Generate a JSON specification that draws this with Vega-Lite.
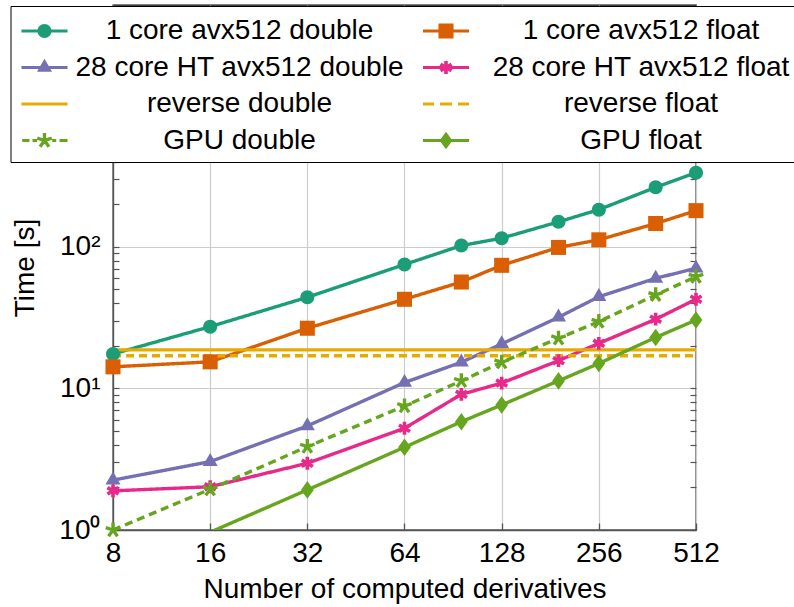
{
  "$schema": "https://vega.github.io/schema/vega-lite/v6.json",
  "width": 583,
  "height": 525,
  "autosize": {"type": "none"},
  "padding": {"left": 113, "top": 5, "right": 98, "bottom": 77},
  "background": "white",
  "config": {
    "font": "Liberation Sans",
    "view": {"stroke": "#000000", "strokeWidth": 1.3},
    "axis": {"labelColor": "#000000", "titleColor": "#000000", "titleFontWeight": "normal", "labelFont": "Liberation Sans", "titleFont": "Liberation Sans"}
  },
  "data": {"values": [
    {"n": 8, "t": 17.5, "s": "1 core avx512 double"},
    {"n": 16, "t": 27.3, "s": "1 core avx512 double"},
    {"n": 32, "t": 44, "s": "1 core avx512 double"},
    {"n": 64, "t": 75, "s": "1 core avx512 double"},
    {"n": 96, "t": 102, "s": "1 core avx512 double"},
    {"n": 128, "t": 115, "s": "1 core avx512 double"},
    {"n": 192, "t": 150, "s": "1 core avx512 double"},
    {"n": 256, "t": 183, "s": "1 core avx512 double"},
    {"n": 384, "t": 263, "s": "1 core avx512 double"},
    {"n": 512, "t": 334, "s": "1 core avx512 double"},
    {"n": 8, "t": 14.2, "s": "1 core avx512 float"},
    {"n": 16, "t": 15.4, "s": "1 core avx512 float"},
    {"n": 32, "t": 26.6, "s": "1 core avx512 float"},
    {"n": 64, "t": 42.6, "s": "1 core avx512 float"},
    {"n": 96, "t": 56.4, "s": "1 core avx512 float"},
    {"n": 128, "t": 74, "s": "1 core avx512 float"},
    {"n": 192, "t": 99, "s": "1 core avx512 float"},
    {"n": 256, "t": 112, "s": "1 core avx512 float"},
    {"n": 384, "t": 146, "s": "1 core avx512 float"},
    {"n": 512, "t": 180, "s": "1 core avx512 float"},
    {"n": 8, "t": 2.25, "s": "28 core HT avx512 double"},
    {"n": 16, "t": 3.04, "s": "28 core HT avx512 double"},
    {"n": 32, "t": 5.43, "s": "28 core HT avx512 double"},
    {"n": 64, "t": 11.0, "s": "28 core HT avx512 double"},
    {"n": 96, "t": 15.3, "s": "28 core HT avx512 double"},
    {"n": 128, "t": 20.6, "s": "28 core HT avx512 double"},
    {"n": 192, "t": 31.8, "s": "28 core HT avx512 double"},
    {"n": 256, "t": 44.4, "s": "28 core HT avx512 double"},
    {"n": 384, "t": 59.9, "s": "28 core HT avx512 double"},
    {"n": 512, "t": 70.5, "s": "28 core HT avx512 double"},
    {"n": 8, "t": 1.89, "s": "28 core HT avx512 float"},
    {"n": 16, "t": 2.02, "s": "28 core HT avx512 float"},
    {"n": 32, "t": 2.96, "s": "28 core HT avx512 float"},
    {"n": 64, "t": 5.23, "s": "28 core HT avx512 float"},
    {"n": 96, "t": 9.08, "s": "28 core HT avx512 float"},
    {"n": 128, "t": 10.9, "s": "28 core HT avx512 float"},
    {"n": 192, "t": 15.7, "s": "28 core HT avx512 float"},
    {"n": 256, "t": 20.8, "s": "28 core HT avx512 float"},
    {"n": 384, "t": 30.8, "s": "28 core HT avx512 float"},
    {"n": 512, "t": 42.6, "s": "28 core HT avx512 float"},
    {"n": 8, "t": 18.7, "s": "reverse double"},
    {"n": 512, "t": 18.7, "s": "reverse double"},
    {"n": 8, "t": 17.0, "s": "reverse float"},
    {"n": 512, "t": 17.0, "s": "reverse float"},
    {"n": 8, "t": 1.0, "s": "GPU double"},
    {"n": 16, "t": 1.94, "s": "GPU double"},
    {"n": 32, "t": 3.88, "s": "GPU double"},
    {"n": 64, "t": 7.51, "s": "GPU double"},
    {"n": 96, "t": 11.3, "s": "GPU double"},
    {"n": 128, "t": 15.3, "s": "GPU double"},
    {"n": 192, "t": 22.6, "s": "GPU double"},
    {"n": 256, "t": 29.6, "s": "GPU double"},
    {"n": 384, "t": 45.7, "s": "GPU double"},
    {"n": 512, "t": 61.5, "s": "GPU double"},
    {"n": 8, "t": 0.5, "s": "GPU float"},
    {"n": 16, "t": 0.965, "s": "GPU float"},
    {"n": 32, "t": 1.92, "s": "GPU float"},
    {"n": 64, "t": 3.84, "s": "GPU float"},
    {"n": 96, "t": 5.82, "s": "GPU float"},
    {"n": 128, "t": 7.64, "s": "GPU float"},
    {"n": 192, "t": 11.3, "s": "GPU float"},
    {"n": 256, "t": 15.0, "s": "GPU float"},
    {"n": 384, "t": 22.9, "s": "GPU float"},
    {"n": 512, "t": 30.4, "s": "GPU float"}
  ]},
  "encoding": {
    "x": {
      "field": "n", "type": "quantitative",
      "scale": {"type": "log", "base": 2, "domain": [8, 512], "nice": false},
      "axis": {
        "values": [8, 16, 32, 64, 128, 256, 512], "format": "d",
        "labelFontSize": 28, "labelFlush": false, "labelOverlap": false, "labelPadding": 16,
        "tickSize": -7, "tickColor": "#555555", "tickWidth": 1.3,
        "domainColor": "#555555", "domainWidth": 1.3,
        "grid": true, "gridColor": "#cccccc", "gridWidth": 1.2,
        "title": "Number of computed derivatives", "titleFontSize": 28, "titlePadding": 8
      }
    }
  },
  "resolve": {"scale": {"color": "independent", "shape": "independent"}, "axis": {"y": "independent"}},
  "layer": [
    {
      "mark": {"type": "line", "strokeWidth": 3.4, "clip": true},
      "encoding": {
        "y": {
          "field": "t", "type": "quantitative",
          "scale": {"type": "log", "domain": [1, 5100], "nice": false},
          "axis": {
            "orient": "left",
            "values": [1, 2, 3, 4, 5, 6, 7, 8, 9, 10, 20, 30, 40, 50, 60, 70, 80, 90, 100, 200, 300, 400, 500, 600, 700, 800, 900, 1000, 2000, 3000, 4000, 5000],
            "labelExpr": "datum.value == 1 ? '10⁰' : datum.value == 10 ? '10¹' : datum.value == 100 ? '10²' : ''",
            "labelFontSize": 28, "labelPadding": 19,
            "tickSize": -6, "tickColor": "#555555", "tickWidth": 1.2,
            "domainColor": "#555555", "domainWidth": 1.3,
            "grid": true, "gridColor": "#cccccc", "gridWidth": 1.2,
            "gridOpacity": {"condition": {"test": "datum.value == 1 || datum.value == 10 || datum.value == 100 || datum.value == 1000", "value": 1}, "value": 0},
            "title": "Time [s]", "titleFontSize": 28, "titlePadding": 19
          }
        },
        "color": {
          "field": "s", "type": "nominal",
          "scale": {
            "domain": ["1 core avx512 double", "1 core avx512 float", "28 core HT avx512 double", "28 core HT avx512 float", "reverse double", "reverse float", "GPU double", "GPU float"],
            "range": ["#1b9e77", "#d95f02", "#7570b3", "#e7298a", "#e6ab02", "#e6ab02", "#66a61e", "#66a61e"]
          },
          "legend": null
        },
        "strokeDash": {
          "field": "s", "type": "nominal",
          "scale": {
            "domain": ["1 core avx512 double", "1 core avx512 float", "28 core HT avx512 double", "28 core HT avx512 float", "reverse double", "reverse float", "GPU double", "GPU float"],
            "range": [[1, 0], [1, 0], [1, 0], [1, 0], [1, 0], [8, 5], [8, 5], [1, 0]]
          },
          "legend": null
        }
      }
    },
    {
      "transform": [{"filter": "datum.t >= 1 && datum.s != 'reverse double' && datum.s != 'reverse float'"}],
      "mark": {"type": "point", "filled": true, "size": 256, "opacity": 1, "strokeWidth": 0},
      "encoding": {
        "y": {
          "field": "t", "type": "quantitative",
          "scale": {"type": "log", "domain": [1, 5100], "nice": false},
          "axis": {
            "orient": "right",
            "values": [1, 2, 3, 4, 5, 6, 7, 8, 9, 10, 20, 30, 40, 50, 60, 70, 80, 90, 100, 200, 300, 400, 500, 600, 700, 800, 900, 1000, 2000, 3000, 4000, 5000],
            "labels": false, "grid": false, "domain": false,
            "tickSize": -6, "tickColor": "#555555", "tickWidth": 1.2,
            "title": null
          }
        },
        "color": {
          "field": "s", "type": "nominal",
          "scale": {
            "domain": ["1 core avx512 double", "1 core avx512 float", "28 core HT avx512 double", "28 core HT avx512 float", "reverse double", "reverse float", "GPU double", "GPU float"],
            "range": ["#1b9e77", "#d95f02", "#7570b3", "#e7298a", "#e6ab02", "#e6ab02", "#66a61e", "#66a61e"]
          },
          "legend": null
        },
        "shape": {
          "field": "s", "type": "nominal",
          "scale": {
            "domain": ["1 core avx512 double", "1 core avx512 float", "28 core HT avx512 double", "28 core HT avx512 float", "reverse double", "reverse float", "GPU double", "GPU float"],
            "range": [
              "M0.875,0A0.875,0.875,0,1,1,-0.875,0A0.875,0.875,0,1,1,0.875,0Z",
              "M-0.94,-0.94H0.94V0.94H-0.94Z",
              "M0,-1.08L0.94,0.54L-0.94,0.54Z",
              "M-0.224,-0.8L0.224,-0.8L0.224,0.8L-0.224,0.8Z M0.581,-0.594L0.805,-0.206L-0.581,0.594L-0.805,0.206Z M-0.805,-0.206L-0.581,-0.594L0.805,0.206L0.581,0.594Z",
              "circle",
              "circle",
              "M-0.209,-0.95L0.209,-0.95L0.209,0L-0.209,0Z M0.839,-0.492L0.968,-0.095L0.065,0.199L-0.065,-0.199Z M0.728,0.646L0.39,0.891L-0.169,0.123L0.169,-0.123Z M-0.39,0.891L-0.728,0.646L-0.169,-0.123L0.169,0.123Z M-0.968,-0.095L-0.839,-0.492L0.065,-0.199L-0.065,0.199Z",
              "M0,-1.1L0.8,0L0,1.1L-0.8,0Z"
            ]
          },
          "legend": null
        }
      }
    },
    {
      "mark": {"type": "point", "filled": true, "opacity": 0, "strokeWidth": 0},
      "encoding": {
        "y": {"field": "t", "type": "quantitative", "scale": {"type": "log", "domain": [1, 5100], "nice": false}, "axis": null},
        "color": {
          "field": "s", "type": "nominal",
          "scale": {
            "domain": ["1 core avx512 double", "28 core HT avx512 double", "reverse double", "GPU double", "1 core avx512 float", "28 core HT avx512 float", "reverse float", "GPU float"],
            "range": ["#1b9e77", "#7570b3", "#e6ab02", "#66a61e", "#d95f02", "#e7298a", "#e6ab02", "#66a61e"]
          },
          "legend": {
            "orient": "none", "legendX": -102.5, "legendY": 1, "columns": 2, "title": null,
            "fillColor": "white", "strokeColor": "#000000", "padding": 7,
            "symbolSize": 1296, "symbolStrokeWidth": 0, "symbolOpacity": 1,
            "labelFontSize": 28, "labelFont": "Liberation Sans", "labelColor": "#000000", "labelAlign": "center", "labelOffset": 186, "labelLimit": 600,
            "rowPadding": 4.5, "columnPadding": 14.5
          }
        },
        "shape": {
          "field": "s", "type": "nominal",
          "scale": {
            "domain": ["1 core avx512 double", "28 core HT avx512 double", "reverse double", "GPU double", "1 core avx512 float", "28 core HT avx512 float", "reverse float", "GPU float"],
            "range": [
              "M-0.78,-0.09H1.78V0.09H-0.78Z M0.889,0A0.389,0.389,0,1,1,0.111,0A0.389,0.389,0,1,1,0.889,0Z",
              "M-0.78,-0.09H1.78V0.09H-0.78Z M0.5,-0.48L0.918,0.24L0.082,0.24Z",
              "M-0.78,-0.09H1.78V0.09H-0.78Z",
              "M-0.739,-0.09H-0.333V0.09H-0.739Z M-0.167,-0.09H0.094V0.09H-0.167Z M0.928,-0.09H1.15V0.09H0.928Z M1.333,-0.09H1.778V0.09H1.333Z M0.407,-0.422L0.593,-0.422L0.593,0L0.407,0Z M0.873,-0.218L0.93,-0.042L0.529,0.088L0.471,-0.088Z M0.823,0.287L0.673,0.396L0.425,0.055L0.575,-0.055Z M0.327,0.396L0.177,0.287L0.425,-0.055L0.575,0.055Z M0.07,-0.042L0.127,-0.218L0.529,-0.088L0.471,0.088Z",
              "M-0.78,-0.09H1.78V0.09H-0.78Z M0.082,-0.418H0.918V0.418H0.082Z",
              "M-0.78,-0.09H1.78V0.09H-0.78Z M0.4,-0.356L0.6,-0.356L0.6,0.356L0.4,0.356Z M0.758,-0.264L0.858,-0.0915L0.242,0.264L0.142,0.0915Z M0.142,-0.0915L0.242,-0.264L0.858,0.0915L0.758,0.264Z",
              "M-0.778,-0.09H-0.167V0.09H-0.778Z M0.167,-0.09H0.833V0.09H0.167Z M1.167,-0.09H1.778V0.09H1.167Z",
              "M-0.78,-0.09H1.78V0.09H-0.78Z M0.5,-0.489L0.856,0L0.5,0.489L0.144,0Z"
            ]
          },
          "legend": {
            "orient": "none", "legendX": -102.5, "legendY": 1, "columns": 2, "title": null,
            "fillColor": "white", "strokeColor": "#000000", "padding": 7,
            "symbolSize": 1296, "symbolStrokeWidth": 0, "symbolOpacity": 1,
            "labelFontSize": 28, "labelFont": "Liberation Sans", "labelColor": "#000000", "labelAlign": "center", "labelOffset": 186, "labelLimit": 600,
            "rowPadding": 4.5, "columnPadding": 14.5
          }
        }
      }
    }
  ]
}
